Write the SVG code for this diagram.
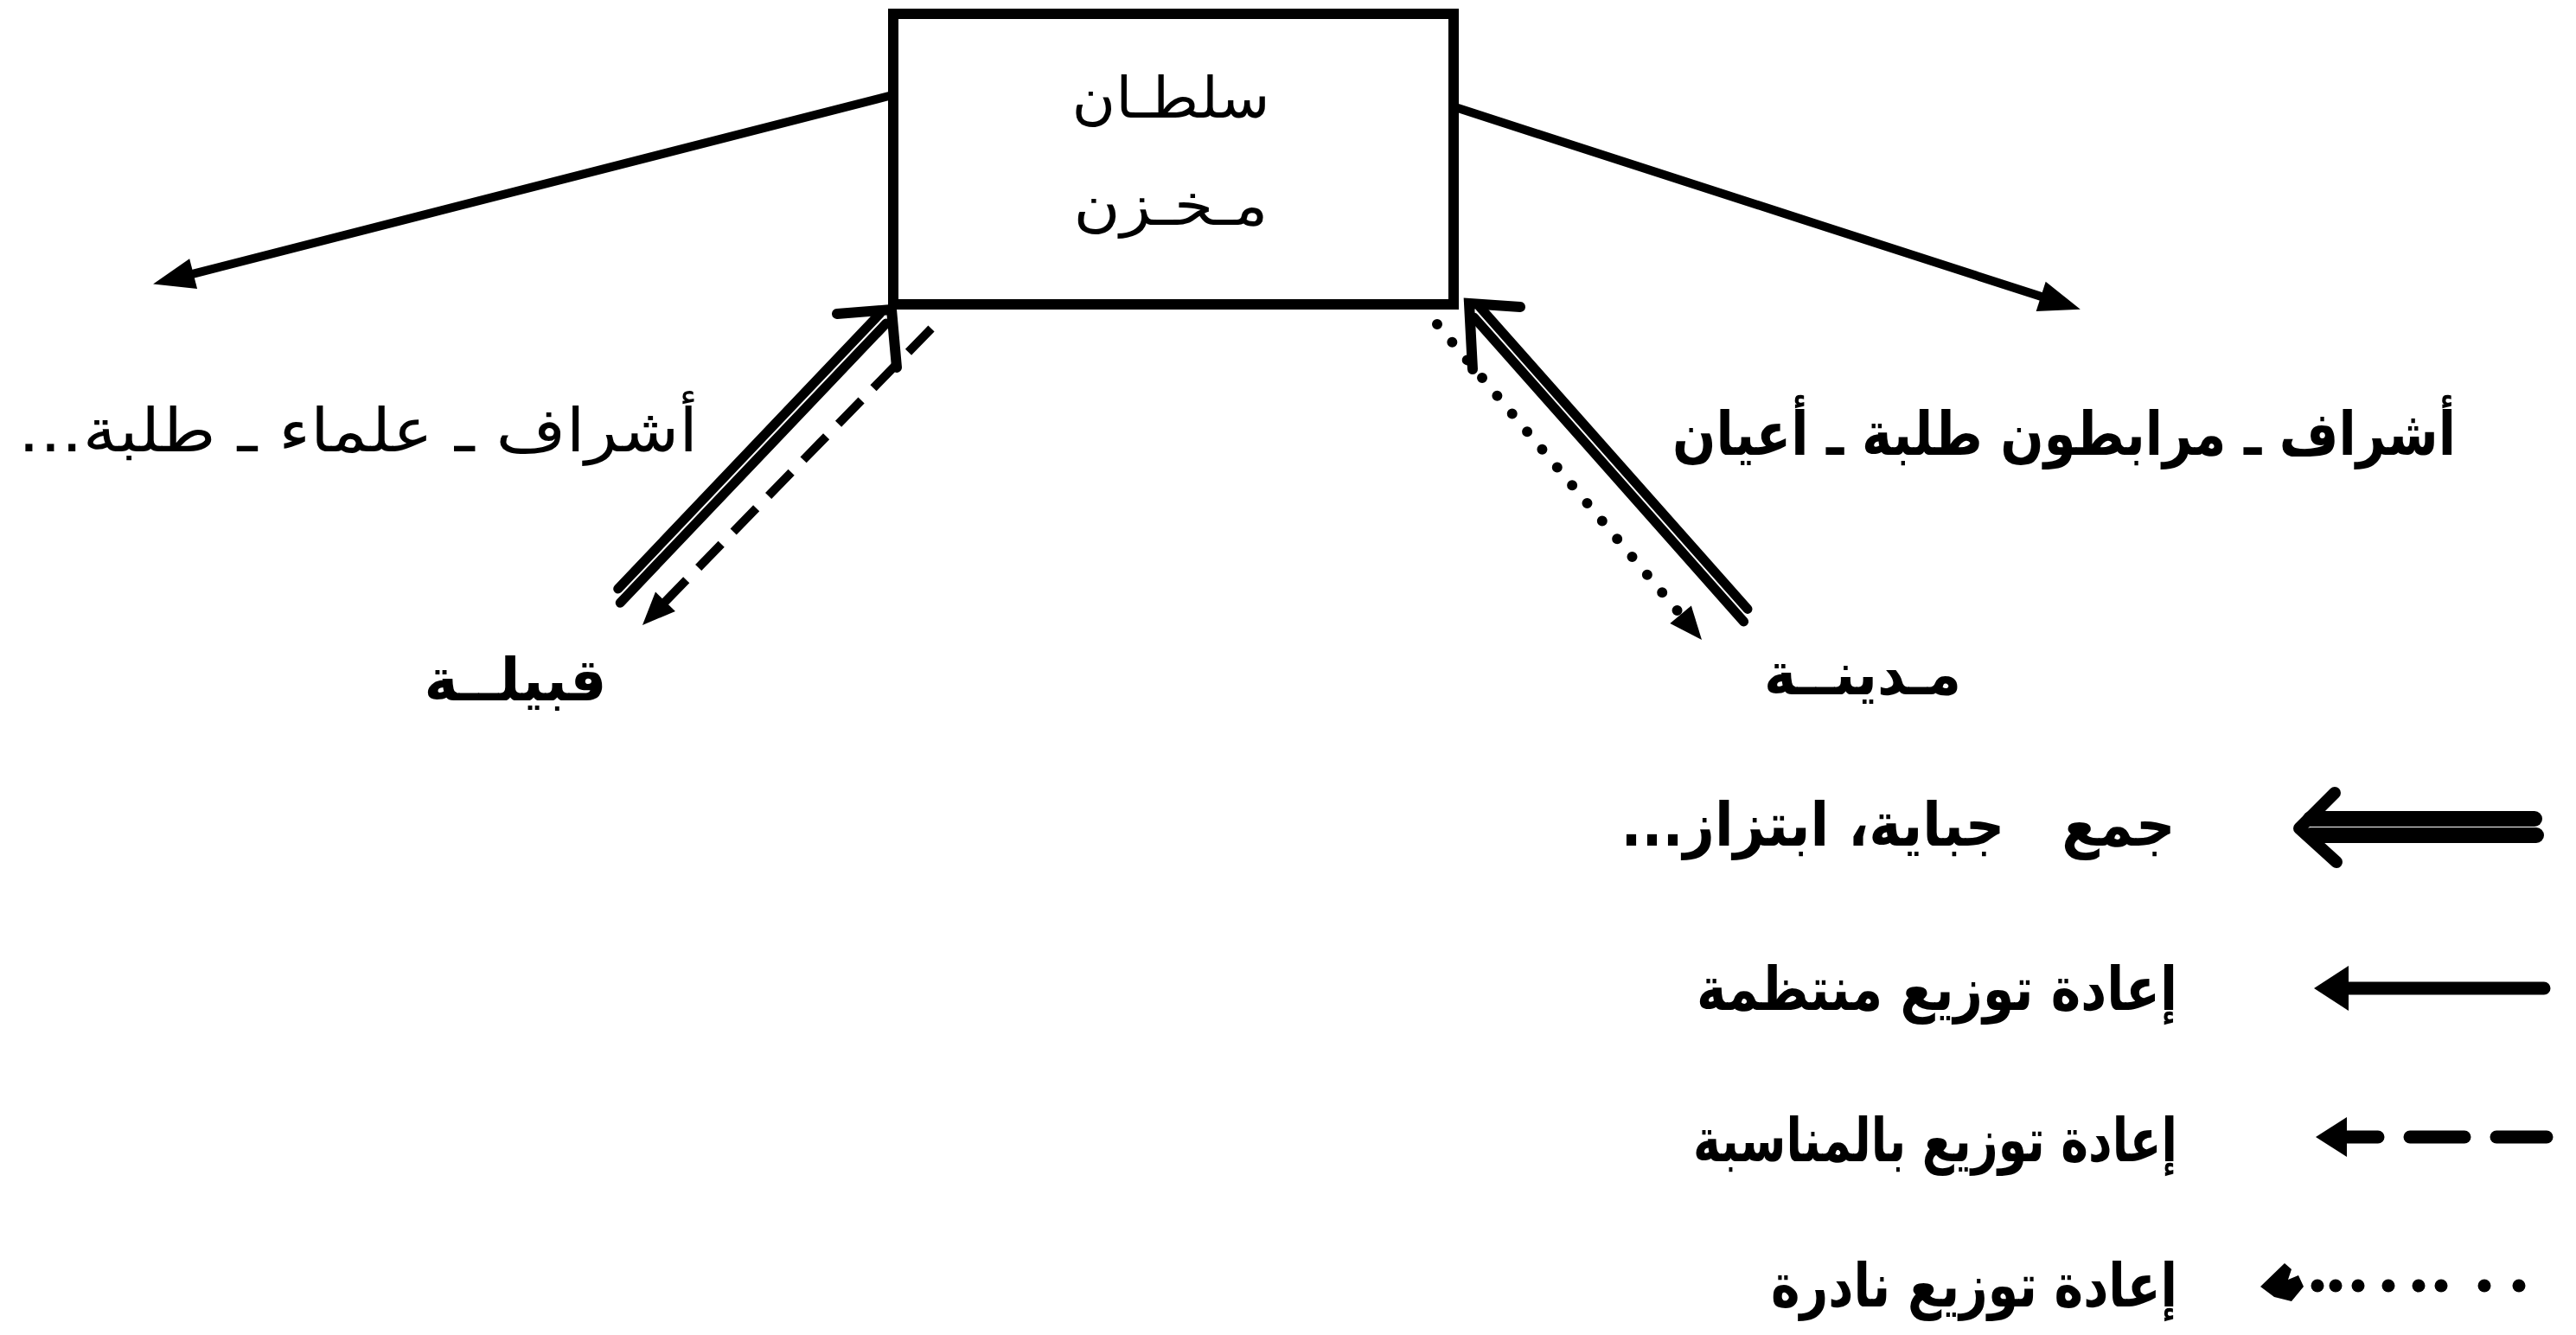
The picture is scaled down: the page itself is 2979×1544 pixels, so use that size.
<svg xmlns="http://www.w3.org/2000/svg" width="2979" height="1544" viewBox="0 0 2979 1544">
<style>
  .t { font-family: "DejaVu Sans", sans-serif; fill: #000; text-anchor: middle; direction: rtl; font-weight: bold; }
  .t.n { font-weight: normal; }
  .ln { stroke: #000; fill: none; stroke-linecap: round; }
  .main { stroke-width: 10; }
  .dbl { stroke-width: 11; }
  .chev { stroke-width: 12; stroke-linejoin: miter; }
  .dash { stroke-width: 10; stroke-dasharray: 38 20; stroke-linecap: butt; }
  .dot { stroke-width: 12; stroke-dasharray: 0 27; }
  .hd { fill: #000; stroke: none; }
</style>
<defs>
  <marker id="ah" markerUnits="userSpaceOnUse" orient="auto" markerWidth="90" markerHeight="90" refX="0" refY="0" overflow="visible">
    <path d="M36,0 L-12,-18 L-12,18 Z" fill="#000"/>
  </marker>
  <marker id="ahs" markerUnits="userSpaceOnUse" orient="auto" markerWidth="90" markerHeight="90" refX="0" refY="0" overflow="visible">
    <path d="M28,0 L-10,-16 L-10,16 Z" fill="#000"/>
  </marker>
</defs>

<g id="node-sultan">
  <rect x="1033" y="16" width="648" height="336" fill="#fff" stroke="#000" stroke-width="12"/>
  <text class="t n" x="1354" y="136" font-size="66" textLength="229" lengthAdjust="spacingAndGlyphs">سلطـان</text>
  <text class="t n" x="1354" y="260" font-size="66" textLength="225" lengthAdjust="spacingAndGlyphs">مـخـزن</text>
</g>

<g id="node-elite-left">
  <text class="t n" x="414" y="522" font-size="70" textLength="786" lengthAdjust="spacingAndGlyphs">أشراف ـ علماء ـ طلبة...</text>
</g>

<g id="node-elite-right">
  <text class="t" x="2387" y="526" font-size="70" textLength="906" lengthAdjust="spacingAndGlyphs">أشراف ـ مرابطون طلبة ـ أعيان</text>
</g>

<g id="node-qabila">
  <text class="t" x="596" y="810" font-size="68" textLength="211" lengthAdjust="spacingAndGlyphs">قبيلــة</text>
</g>

<g id="node-madina">
  <text class="t" x="2154" y="803" font-size="68" textLength="228" lengthAdjust="spacingAndGlyphs">مـدينــة</text>
</g>

<g id="connectors">
  <line class="ln main" x1="1028" y1="111" x2="212" y2="319.6" marker-end="url(#ah)"/>
  <line class="ln main" x1="1686" y1="125" x2="2371.6" y2="346.6" marker-end="url(#ah)"/>
  <line class="ln dbl" x1="714.7" y1="681" x2="1018" y2="362.2"/>
  <line class="ln dbl" x1="717.2" y1="697.2" x2="1024.7" y2="374.1"/>
  <polyline class="ln chev" points="968,363 1031,358 1037,425"/>
  <line class="ln dash" x1="1077" y1="380" x2="762.5" y2="702.9" marker-end="url(#ahs)"/>
  <line class="ln dbl" x1="2021" y1="704.4" x2="1711.8" y2="355.7"/>
  <line class="ln dbl" x1="2016.6" y1="719" x2="1704.8" y2="367.3"/>
  <polyline class="ln chev" points="1758,355 1699,351 1703,427"/>
  <line class="ln dot" x1="1662" y1="375" x2="1950" y2="718.5" marker-end="url(#ahs)"/>
</g>

<g id="legend">
  <g id="legend-collection">
    <line class="ln" stroke-width="18" x1="2672" y1="947" x2="2931" y2="947"/>
    <line class="ln" stroke-width="18" x1="2672" y1="966" x2="2933" y2="966"/>
    <polyline class="ln" stroke-width="14" stroke-linejoin="round" points="2700,917 2659,958 2702,997"/>
    <text class="t" x="2195" y="978" font-size="70" textLength="641" lengthAdjust="spacingAndGlyphs">جمع&#160;&#160;&#160;جباية، ابتزاز...</text>
  </g>
  <g id="legend-regular">
    <line class="ln" stroke-width="15" x1="2712" y1="1143" x2="2942" y2="1143"/>
    <polygon class="hd" points="2676,1143 2716,1117 2716,1169"/>
    <text class="t" x="2240" y="1168" font-size="70" textLength="556" lengthAdjust="spacingAndGlyphs">إعادة توزيع منتظمة</text>
  </g>
  <g id="legend-occasional">
    <line class="ln" stroke-width="15" x1="2712" y1="1315" x2="2750" y2="1315"/>
    <line class="ln" stroke-width="15" x1="2787" y1="1315" x2="2850" y2="1315"/>
    <line class="ln" stroke-width="15" x1="2887" y1="1315" x2="2945" y2="1315"/>
    <polygon class="hd" points="2678,1315 2714,1292 2714,1338"/>
    <text class="t" x="2238" y="1343" font-size="70" textLength="560" lengthAdjust="spacingAndGlyphs">إعادة توزيع بالمناسبة</text>
  </g>
  <g id="legend-rare">
    <polygon class="hd" points="2614,1488 2642,1461 2650,1468 2646,1480 2658,1475 2664,1488 2650,1505 2630,1500"/>
    <g class="hd">
      <circle cx="2680" cy="1487" r="7.5"/>
      <circle cx="2701" cy="1487" r="7.5"/>
      <circle cx="2727" cy="1487" r="7.5"/>
      <circle cx="2762" cy="1487" r="7.5"/>
      <circle cx="2797" cy="1487" r="7.5"/>
      <circle cx="2823" cy="1487" r="7.5"/>
      <circle cx="2873" cy="1487" r="7.5"/>
      <circle cx="2913" cy="1487" r="7.5"/>
    </g>
    <text class="t" x="2283" y="1511" font-size="70" textLength="470" lengthAdjust="spacingAndGlyphs">إعادة توزيع نادرة</text>
  </g>
</g>
</svg>
